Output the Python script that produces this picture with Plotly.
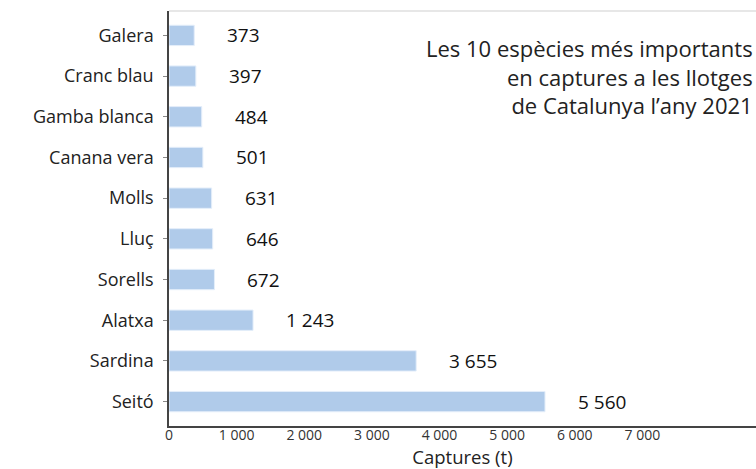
import plotly.graph_objects as go

# catches per species (tonnes), top to bottom as drawn
species = ["Galera", "Cranc blau", "Gamba blanca", "Canana vera", "Molls",
           "Lluç", "Sorells", "Alatxa", "Sardina", "Seitó"]
captures = [373, 397, 484, 501, 631, 646, 672, 1243, 3655, 5560]
x_ticks = [0, 1000, 2000, 3000, 4000, 5000, 6000, 7000]

FONT = "Open Sans"
BAR_COLOR = "#b0cbea"


def fmt(v):
    return f"{v:,}".replace(",", " ")


fig = go.Figure()
fig.add_trace(go.Bar(
    x=captures, y=species, orientation="h", width=0.5,
    marker=dict(color=BAR_COLOR, line=dict(color="#e4eefa", width=1)),
    hoverinfo="x+y",
))

# value labels sit a bit away from the bar ends
for name, v in zip(species, captures):
    fig.add_annotation(x=v, y=name, text=fmt(v), showarrow=False,
                       xanchor="left", xshift=31,
                       font=dict(family=FONT, size=19, color="#111"))

fig.add_annotation(
    xref="paper", yref="paper", x=1.0, y=0.842, xshift=-1,
    xanchor="right", yanchor="middle", align="right", showarrow=False,
    text="Les 10 espècies més importants<br>en captures a les llotges<br>de Catalunya l’any 2021",
    font=dict(family=FONT, size=22, color="#222"),
)

# light frame line along the top
fig.add_shape(type="line", xref="paper", yref="paper", x0=0, x1=1, y0=1, y1=1,
              line=dict(color="#cfcfcf", width=1))

fig.update_layout(
    width=756, height=469,
    margin=dict(l=169, r=0, t=11, b=43),
    plot_bgcolor="white", paper_bgcolor="white",
    showlegend=False,
    font=dict(family=FONT, color="#222"),
    separators=", ",
)
fig.update_xaxes(
    range=[0, 8680], tickvals=x_ticks, separatethousands=True,
    showgrid=False, zeroline=False,
    showline=True, linecolor="#444", linewidth=1.5,
    ticks="", ticklabelstandoff=-5,
    tickfont=dict(family=FONT, size=14, color="#333"),
    title=dict(text="Captures (t)", font=dict(family=FONT, size=18.5, color="#222"), standoff=10),
)
fig.update_yaxes(
    categoryorder="array", categoryarray=species, autorange=False, range=[9.6, -0.6],
    showgrid=False, zeroline=False,
    showline=True, linecolor="#444", linewidth=1.5,
    ticks="outside", ticklen=4, tickcolor="#888", ticklabelstandoff=6,
    tickfont=dict(family=FONT, size=18, color="#222"),
)

fig.write_html("out.html", config={"displayModeBar": False},
               post_script="document.body.style.margin='0';")
